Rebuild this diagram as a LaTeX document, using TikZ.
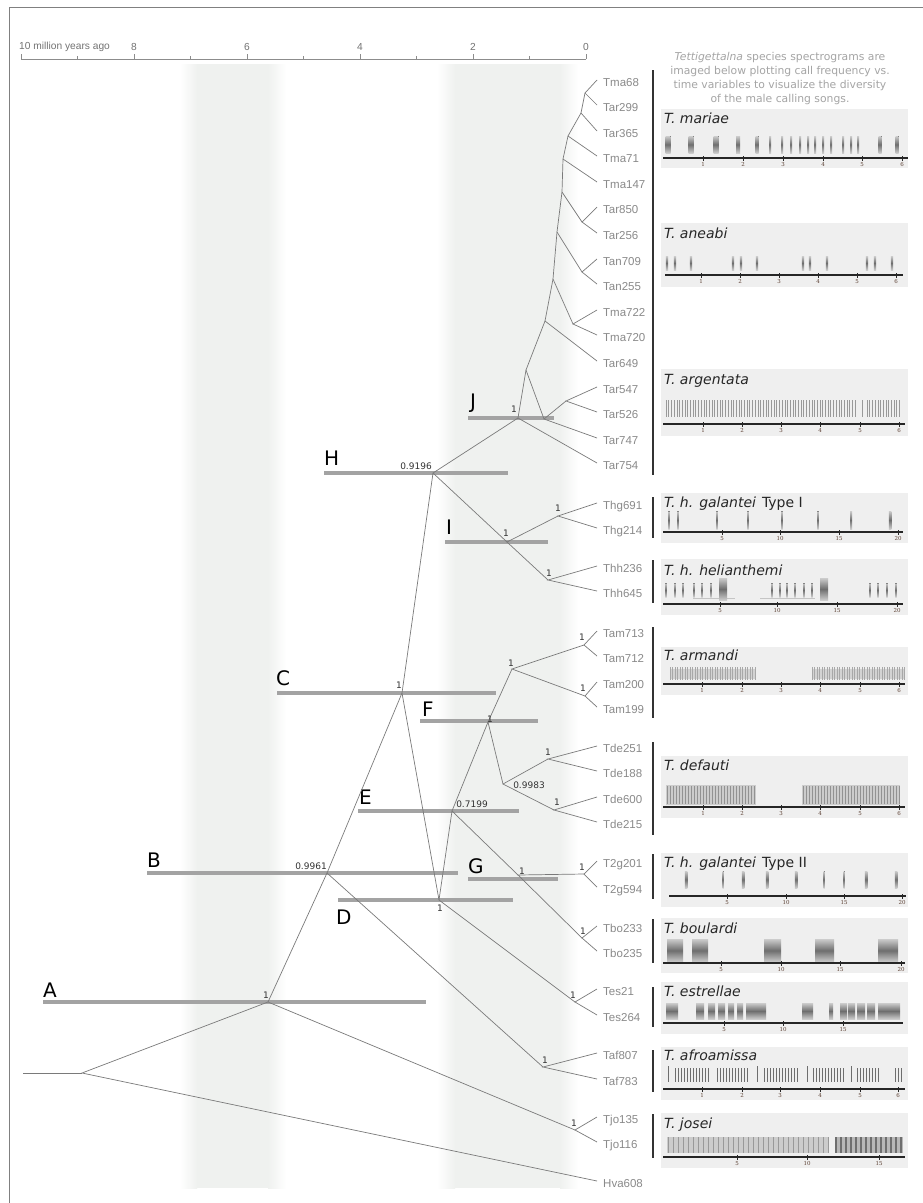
\documentclass[tikz,border=0pt]{standalone}
\usepackage{fontspec}
\setmainfont{DejaVu Sans}
\newfontfamily\leaffont{Liberation Sans}
\newfontfamily\tickfont{DejaVu Serif}

\definecolor{branchgray}{HTML}{7A7A7A}
\definecolor{leafgray}{HTML}{8A8A8A}
\definecolor{hpdgray}{HTML}{A3A3A3}
\definecolor{bandgray}{HTML}{EFF1EF}
\definecolor{panelgray}{HTML}{EFEFEF}
\definecolor{introgray}{HTML}{A5A5A5}
\definecolor{tickbrown}{HTML}{5C4033}
\definecolor{pulsegray}{HTML}{6E6E6E}

% one split of the tree: parent, first child, second child
\newcommand{\treesplit}[3]{\draw[branch] (#2) -- (#1) -- (#3);}
% time axis under a spectrogram: x start, x end, y, ticks
\newcommand{\specaxis}[4]{%
  \draw[specaxisline] (#1,#3) -- (#2,#3);
  \foreach \tx/\tl in {#4}{
    \draw[specaxisline, line width=0.7pt] (\tx,#3-2) -- (\tx,#3+2.5);
    \node[spectick] at (\tx,#3+6.5) {\tl};
  }}

\begin{document}
\begin{tikzpicture}[x=1pt, y=-1pt,
    branch/.style={draw=branchgray, line width=0.7pt},
    hpd/.style={draw=hpdgray, line width=4.5pt},
    leaf/.style={anchor=west, inner sep=0pt, text=leafgray, text height=8pt, text depth=0pt,
      font=\leaffont\fontsize{11.5}{12}\selectfont},
    support/.style={inner sep=0pt, text=black!80, font=\fontsize{9}{9}\selectfont},
    cladeletter/.style={anchor=base west, inner sep=0pt, font=\fontsize{20}{20}\selectfont},
    groupbar/.style={draw=black!80, line width=2.5pt},
    panel/.style={fill=panelgray},
    species/.style={anchor=base west, inner sep=0pt, text=black!85,
      font=\fontsize{14}{14}\selectfont\itshape},
    pulse/.style={top color=pulsegray!35, bottom color=pulsegray!35, middle color=pulsegray},
    fine/.style={draw=pulsegray, line width=0.6pt},
    specaxisline/.style={draw=black!85, line width=1.3pt},
    spectick/.style={inner sep=0pt, text=tickbrown, font=\tickfont\fontsize{5.5}{6}\selectfont},
    axislabel/.style={inner sep=0pt, text=black!55, font=\leaffont\fontsize{10.2}{11}\selectfont}]
  \useasboundingbox (0,0) rectangle (923,1203);
  \fill[white] (0,0) rectangle (923,1203);
  \draw[black!50, line width=0.8pt] (9,1203) -- (9,7) -- (923,7);

  % shaded time bands
  \shade[left color=white, right color=bandgray] (180,64) rectangle (197,1188);
  \fill[bandgray] (197,64) rectangle (268,1188);
  \shade[left color=bandgray, right color=white] (268,64) rectangle (286,1188);
  \shade[left color=white, right color=bandgray] (437,64) rectangle (455,1188);
  \fill[bandgray] (455,64) rectangle (560,1188);
  \shade[left color=bandgray, right color=white] (560,64) rectangle (578,1188);

  % time axis
  \draw[black!45, line width=0.6pt] (21,59) -- (586,59);
  \foreach \i in {0,2,...,10} \draw[black!45, line width=0.6pt] ({586-56.5*\i},59) -- ++(0,-5);
  \foreach \i in {1,3,...,9} \draw[black!45, line width=0.6pt] ({586-56.5*\i},59) -- ++(0,-3);
  \node[axislabel, anchor=west] (axtitle) at (19,47) {10 million years ago};
  \foreach \v in {8,6,4,2,0} \node[axislabel] (ax\v) at ({586-56.5*\v},47) {\v};

  % 95% HPD bars and clade letters
  \foreach \xa/\xb/\yb in {43/426/1002, 147/458/873, 277/496/693, 338/513/900, 358/519/811,
      420/538/721, 468/558/879, 324/508/473, 445/548/542, 468/554/418}
    \draw[hpd] (\xa,\yb) -- (\xb,\yb);
  \foreach \lt/\lx/\ly in {A/43/997, B/147/867, C/276/685, D/336/924, E/359/804,
      F/422/716, G/468/873, H/324/465, I/446/534, J/470/408}
    \node[cladeletter] (letter\lt) at (\lx,\ly) {\lt};

  % internal nodes
  \coordinate (stem) at (23,1073);
  \coordinate (root) at (82,1073);
  \coordinate (nA) at (268,1002);
  \coordinate (nB) at (327,873);
  \coordinate (nC) at (402,693);
  \coordinate (nD) at (439,900);
  \coordinate (nE) at (452,811);
  \coordinate (nF) at (488,722);
  \coordinate (nG) at (518,875);
  \coordinate (nH) at (433,473);
  \coordinate (nI) at (507,542);
  \coordinate (nJ) at (518,418);
  \coordinate (nTam) at (512,669);
  \coordinate (nTamA) at (584,645);
  \coordinate (nTamB) at (585,696);
  \coordinate (nTde) at (503,784);
  \coordinate (nTdeA) at (548,759);
  \coordinate (nTdeB) at (554,810);
  \coordinate (nT2g) at (584,874);
  \coordinate (nTbo) at (582,938);
  \coordinate (nTes) at (575,1002);
  \coordinate (nTaf) at (543,1067);
  \coordinate (nTjo) at (575,1130);
  \coordinate (nThg) at (558,516);
  \coordinate (nThh) at (548,580);
  \coordinate (nJ1) at (526,370);
  \coordinate (nJ2) at (544,419);
  \coordinate (nJ3) at (566,401);
  \coordinate (nJ4) at (545,321);
  \coordinate (nJ5) at (553,279);
  \coordinate (nJ6) at (557,232);
  \coordinate (nTma) at (573,324);
  \coordinate (nTan) at (582,272);
  \coordinate (nM5) at (562,192);
  \coordinate (nTar) at (582,222);
  \coordinate (nM4) at (563,159);
  \coordinate (nM3) at (568,136);
  \coordinate (nM2) at (581,113);
  \coordinate (nM1) at (585,93);

  % leaves
  \foreach \nm/\yy in {Tma68/82, Tar299/107, Tar365/133, Tma71/158, Tma147/184, Tar850/209,
      Tar256/235, Tan709/261, Tan255/286, Tma722/312, Tma720/337, Tar649/363, Tar547/389,
      Tar526/414, Tar747/440, Tar754/465, Thg691/505, Thg214/530, Thh236/568, Thh645/593,
      Tam713/633, Tam712/658, Tam200/684, Tam199/709, Tde251/748, Tde188/773, Tde600/799,
      Tde215/824, T2g201/863, T2g594/889, Tbo233/928, Tbo235/953, Tes21/991, Tes264/1017,
      Taf807/1055, Taf783/1081, Tjo135/1119, Tjo116/1144, Hva608/1183} {
    \coordinate (t\nm) at (597,\yy-2);
    \node[leaf] (l\nm) at (603,\yy) {\nm};
  }

  % branches
  \draw[branch] (stem) -- (root);
  \treesplit{root}{nA}{tHva608}
  \treesplit{nA}{nB}{nTjo}
  \treesplit{nTjo}{tTjo135}{tTjo116}
  \treesplit{nB}{nC}{nTaf}
  \treesplit{nTaf}{tTaf807}{tTaf783}
  \treesplit{nC}{nH}{nD}
  \treesplit{nD}{nE}{nTes}
  \treesplit{nTes}{tTes21}{tTes264}
  \treesplit{nE}{nF}{nG}
  \treesplit{nG}{nT2g}{nTbo}
  \treesplit{nT2g}{tT2g201}{tT2g594}
  \treesplit{nTbo}{tTbo233}{tTbo235}
  \treesplit{nF}{nTam}{nTde}
  \treesplit{nTam}{nTamA}{nTamB}
  \treesplit{nTamA}{tTam713}{tTam712}
  \treesplit{nTamB}{tTam200}{tTam199}
  \treesplit{nTde}{nTdeA}{nTdeB}
  \treesplit{nTdeA}{tTde251}{tTde188}
  \treesplit{nTdeB}{tTde600}{tTde215}
  \treesplit{nH}{nJ}{nI}
  \treesplit{nI}{nThg}{nThh}
  \treesplit{nThg}{tThg691}{tThg214}
  \treesplit{nThh}{tThh236}{tThh645}
  \treesplit{nJ}{nJ1}{tTar754}
  \treesplit{nJ1}{nJ4}{nJ2}
  \treesplit{nJ2}{nJ3}{tTar747}
  \treesplit{nJ3}{tTar547}{tTar526}
  \treesplit{nJ4}{nJ5}{tTar649}
  \treesplit{nJ5}{nJ6}{nTma}
  \treesplit{nTma}{tTma722}{tTma720}
  \treesplit{nJ6}{nM5}{nTan}
  \treesplit{nTan}{tTan709}{tTan255}
  \treesplit{nM5}{nM4}{nTar}
  \treesplit{nTar}{tTar850}{tTar256}
  \treesplit{nM4}{nM3}{tTma147}
  \treesplit{nM3}{nM2}{tTma71}
  \treesplit{nM2}{nM1}{tTar365}
  \treesplit{nM1}{tTma68}{tTar299}

  % posterior support values
  \foreach \sx/\sy/\sv [count=\k] in {266/995/1, 311/866/0.9961, 399/685/1, 440/908/1,
      472/804/0.7199, 490/719/1, 522/871/1, 416/466/0.9196, 506/533/1, 514/409/1,
      558/508/1, 549/573/1, 511/663/1, 582/637/1, 583/688/1, 548/752/1, 557/802/1,
      529/785/0.9983, 582/867/1, 583/931/1, 573/995/1, 545/1060/1, 574/1123/1}
    \node[support] (post\k) at (\sx,\sy) {\sv};

  % species groups
  \foreach \ya/\yb in {70/475, 497/538, 560/603, 627/718, 742/835, 854/899, 919/963,
      987/1027, 1050/1092, 1114/1158}
    \draw[groupbar] (653,\ya) -- (653,\yb);

  \node[align=center, inner sep=0pt, text=introgray, font=\fontsize{10.8}{14}\selectfont] (intro) at (780,79)
    {\textit{Tettigettalna} species spectrograms are\\imaged below plotting call frequency vs.\\
     time variables to visualize the diversity\\of the male calling songs.};

  % spectrogram panels
  \foreach \ya/\yb in {109/168, 223/287, 369/436, 493/543, 559/615, 647/695, 756/818,
      853/907, 918/973, 982/1034, 1047/1100, 1113/1168}
    \fill[panel] (661,\ya) rectangle (908,\yb);

  % T. mariae
  \node[species] (sMariae) at (664,123) {T. mariae};
  \foreach \px/\pw in {668/5, 691/5, 716/5, 738/4, 757/3, 770/2, 782/2, 791/2, 800/2, 808/2,
      815/2, 823/2, 831/2, 843/2, 851/2, 858/2, 880/3, 897/3}
    \fill[pulse] (\px-\pw/2,136) rectangle (\px+\pw/2,153);
  \specaxis{663}{908}{158}{703/1, 743/2, 783/3, 823/4, 862/5, 902/6}

  % T. aneabi
  \node[species] (sAneabi) at (664,238) {T. aneabi};
  \foreach \px in {667, 675, 691, 733, 741, 757, 803, 810, 827, 867, 875, 892}
    \fill[pulse] (\px-1.2,256) rectangle (\px+1.2,270);
  \specaxis{665}{903}{275}{701/1, 740/2, 779/3, 818/4, 857/5, 896/6}

  % T. argentata
  \node[species] (sArgentata) at (664,384) {T. argentata};
  \foreach \px in {666,668.7,...,856} \draw[fine, draw=pulsegray!70] (\px,400) -- (\px,417);
  \foreach \px in {862,867,869.7,...,900} \draw[fine, draw=pulsegray!70] (\px,400) -- (\px,417);
  \specaxis{663}{905}{424}{703/1, 742/2, 781/3, 820/4, 860/5, 899/6}

  % T. h. galantei, type I
  \node[species] (sThgOne) at (664,507) {T. h. galantei\hspace{6pt}{\upshape Type I}};
  \foreach \px/\pw in {669/1.2, 678/1.2, 717/1.2, 748/1.2, 782/1.2, 818/1.2, 851/2, 890/2.5}
    \fill[pulse] (\px-\pw/2,511) rectangle (\px+\pw/2,529);
  \specaxis{663}{903}{532}{722/5, 780/10, 839/15, 898/20}

  % T. h. helianthemi
  \node[species] (sThh) at (664,575) {T. h. helianthemi};
  \draw[pulsegray!40, line width=0.8pt] (693,598) -- (735,598) (760,598) -- (815,598);
  \foreach \px in {666, 675, 683, 694, 702, 711, 772, 780, 787, 795, 804, 812, 870, 878, 887, 896}
    \fill[pulse] (\px-0.6,583) rectangle (\px+0.6,597);
  \fill[pulse] (719,578) rectangle (727,600);
  \fill[pulse] (820,578) rectangle (828,600);
  \specaxis{663}{903}{604}{720/5, 777/10, 837/15, 897/20}

  % T. armandi
  \node[species] (sArmandi) at (664,660) {T. armandi};
  \fill[pulsegray!30] (670,669) rectangle (755,679);
  \fill[pulsegray!30] (812,669) rectangle (905,679);
  \foreach \px in {670,672.5,...,755} \draw[fine, draw=pulsegray!60] (\px,667) -- (\px,680);
  \foreach \px in {812,814.5,...,905} \draw[fine, draw=pulsegray!60] (\px,667) -- (\px,680);
  \specaxis{663}{905}{684}{702/1, 742/2, 781/3, 820/4, 860/5, 899/6}

  % T. defauti
  \node[species] (sDefauti) at (664,770) {T. defauti};
  \fill[pulsegray!35] (666,785) rectangle (756,805);
  \fill[pulsegray!35] (802,785) rectangle (900,805);
  \foreach \px in {667,670,...,756} \draw[fine, draw=pulsegray!75] (\px,786) -- (\px,804);
  \foreach \px in {803,806,...,900} \draw[fine, draw=pulsegray!75] (\px,786) -- (\px,804);
  \specaxis{663}{905}{807}{703/1, 742/2, 781/3, 820/4, 860/5, 899/6}

  % T. h. galantei, type II
  \node[species] (sThgTwo) at (664,867) {T. h. galantei\hspace{6pt}{\upshape Type II}};
  \foreach \px/\pw in {686/2.5, 723/1, 743/2.5, 767/2.5, 796/2.5, 824/1, 844/1, 866/2.5, 896/2.5}
    \fill[pulse] (\px-\pw/2,871) rectangle (\px+\pw/2,888);
  \specaxis{669}{906}{896}{727/5, 786/10, 844/15, 902/20}

  % T. boulardi
  \node[species] (sBoulardi) at (664,933) {T. boulardi};
  \foreach \xa/\xb in {667/683, 692/708, 764/781, 815/834, 878/898}
    \fill[pulse] (\xa,939) rectangle (\xb,962);
  \specaxis{663}{905}{963}{721/5, 781/10, 840/15, 901/20}

  % T. estrellae
  \node[species] (sEstrellae) at (664,996) {T. estrellae};
  \foreach \xa/\xb in {666/678, 696/704, 708/715, 718/725, 728/734, 737/743, 746/766,
      802/813, 829/833, 840/847, 848/855, 857/865, 867/875, 878/900}
    \fill[pulse] (\xa,1003) rectangle (\xb,1019);
  \specaxis{663}{903}{1023}{724/5, 783/10, 843/15}

  % T. afroamissa
  \node[species] (sAfroamissa) at (664,1060) {T. afroamissa};
  \foreach \px in {668, 757, 807, 851} \draw[fine, line width=1pt] (\px,1066) -- (\px,1082);
  \foreach \px in {675,678,...,709, 717,720,...,749, 764,767,...,798, 813,816,...,845,
      857,860,...,880, 895,898,901}
    \draw[fine] (\px,1068) -- (\px,1082);
  \specaxis{663}{905}{1089}{702/1, 742/2, 780/3, 820/4, 860/5, 898/6}

  % T. josei
  \node[species] (sJosei) at (664,1128) {T. josei};
  \fill[pulsegray!35] (667,1137) rectangle (828,1153);
  \fill[pulsegray!50] (835,1137) rectangle (903,1153);
  \foreach \px in {668,673,...,828} \draw[fine, draw=pulsegray!70] (\px,1137) -- (\px,1153);
  \foreach \px in {836,841,...,903} \draw[fine, line width=1.2pt] (\px,1137) -- (\px,1153);
  \specaxis{663}{905}{1157}{737/5, 807/10, 879/15}
\end{tikzpicture}
\end{document}
